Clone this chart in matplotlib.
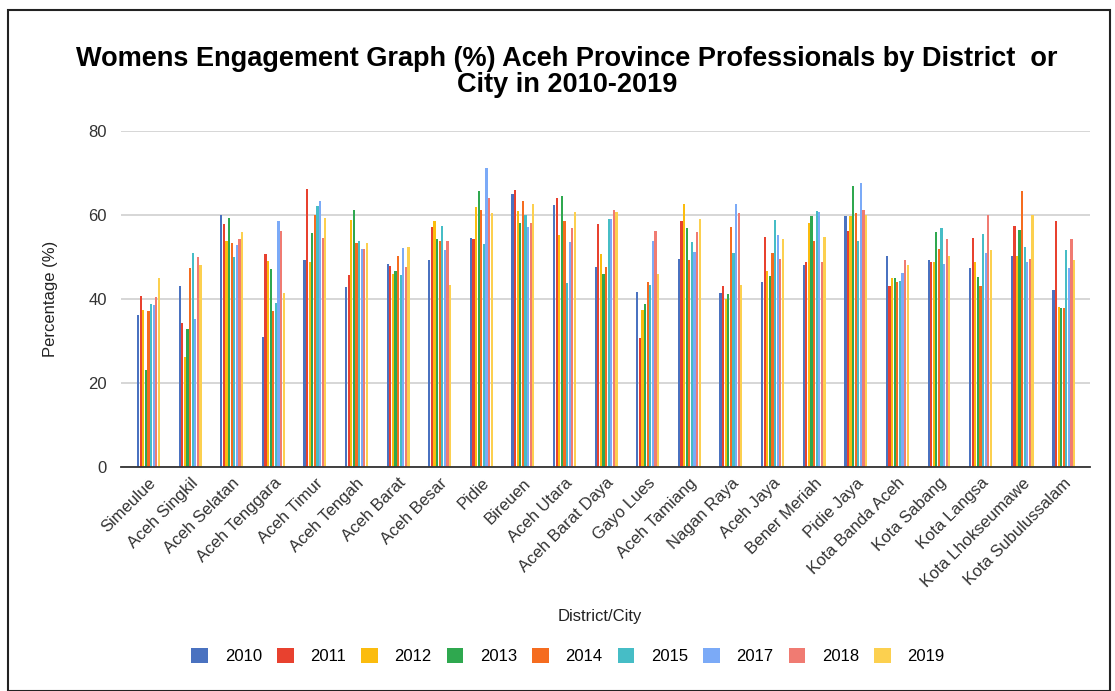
import numpy as np
import matplotlib
matplotlib.use("Agg")
import matplotlib.pyplot as plt
from matplotlib.patches import Rectangle

plt.rcParams['font.family'] = ['Liberation Sans', 'DejaVu Sans']

districts = ["Simeulue", "Aceh Singkil", "Aceh Selatan", "Aceh Tenggara", "Aceh Timur",
             "Aceh Tengah", "Aceh Barat", "Aceh Besar", "Pidie", "Bireuen", "Aceh Utara",
             "Aceh Barat Daya", "Gayo Lues", "Aceh Tamiang", "Nagan Raya", "Aceh Jaya",
             "Bener Meriah", "Pidie Jaya", "Kota Banda Aceh", "Kota Sabang", "Kota Langsa",
             "Kota Lhokseumawe", "Kota Subulussalam"]

years = ["2010", "2011", "2012", "2013", "2014", "2015", "2017", "2018", "2019"]

v2010 = [36.2, 43.1, 60.1, 31.0, 49.3, 42.8, 48.3, 49.3, 54.5, 65.0, 62.4, 47.7, 41.7,
         49.6, 41.4, 44.0, 48.0, 59.8, 50.2, 49.3, 47.3, 50.2, 42.1]
v2011 = [40.8, 34.2, 57.8, 50.6, 66.3, 45.7, 47.9, 57.1, 54.2, 66.0, 64.0, 57.8, 30.6,
         58.5, 43.1, 54.8, 48.7, 56.2, 43.1, 48.7, 54.5, 57.5, 58.5]
v2012 = [37.5, 26.1, 53.9, 49.0, 48.7, 58.8, 46.0, 58.5, 62.0, 61.0, 55.2, 50.6, 37.5,
         62.7, 40.1, 46.7, 58.2, 59.8, 45.1, 48.7, 48.7, 50.2, 38.2]
v2013 = [23.1, 32.9, 59.4, 47.1, 55.6, 61.3, 46.7, 54.2, 65.6, 58.1, 64.6, 46.0, 38.8,
         56.8, 41.1, 45.4, 59.8, 67.0, 45.1, 55.9, 45.3, 56.5, 37.9]
v2014 = [37.1, 47.4, 53.3, 37.2, 60.1, 53.3, 50.2, 53.9, 61.3, 63.3, 58.5, 47.7, 44.0,
         49.3, 57.1, 51.0, 53.9, 60.4, 44.0, 51.9, 43.1, 65.6, 37.9]
v2015 = [38.9, 51.0, 49.9, 39.1, 62.1, 53.8, 45.6, 57.5, 53.2, 60.0, 43.7, 59.0, 43.4,
         53.5, 51.0, 58.8, 61.0, 53.9, 44.4, 56.8, 55.5, 52.5, 51.6]
v2017 = [38.5, 35.2, 52.9, 58.5, 63.3, 51.9, 52.2, 51.6, 71.3, 57.1, 53.5, 59.0, 53.9,
         51.2, 62.7, 55.2, 60.7, 67.6, 46.3, 48.3, 50.9, 48.7, 47.3]
v2018 = [40.5, 49.9, 54.2, 56.2, 54.5, 51.9, 47.6, 53.9, 64.0, 58.1, 56.8, 61.3, 56.2,
         55.9, 60.4, 49.6, 48.7, 61.3, 49.3, 54.2, 60.1, 49.6, 54.2]
v2019 = [45.1, 48.0, 55.9, 41.4, 59.4, 53.3, 52.5, 43.4, 60.4, 62.7, 60.7, 60.7, 46.0,
         59.0, 43.4, 54.2, 54.8, 60.1, 48.0, 50.2, 51.6, 60.1, 49.3]

series = [v2010, v2011, v2012, v2013, v2014, v2015, v2017, v2018, v2019]
colors = ["#4a72c0", "#e8412f", "#fbbc0e", "#2fa84f", "#f56c1f",
          "#46bdc6", "#7baaf7", "#f07b72", "#fcd04f"]

W, H = 1115, 691
fig = plt.figure(figsize=(W / 100, H / 100), dpi=100)
ax = fig.add_axes([121 / W, 1 - 467 / H, (1090 - 121) / W, (467 - 131) / H])

x = np.arange(len(districts))
n = len(series)
group_w = 0.56
bw = group_w / n
for i, (vals, c) in enumerate(zip(series, colors)):
    ax.bar(x - group_w / 2 + bw * (i + 0.5), vals, width=bw * 0.85, color=c,
           label=years[i], zorder=3)

ax.set_xlim(-0.66, len(districts) - 1 + 0.63)
ax.set_ylim(0, 80)
ax.set_yticks([0, 20, 40, 60, 80])
ax.yaxis.grid(True, color="#d0d0d0", linewidth=1.2, zorder=0)
for s in ["top", "right", "left"]:
    ax.spines[s].set_visible(False)
ax.spines["bottom"].set_color("#333333")
ax.spines["bottom"].set_linewidth(1.3)
ax.spines["bottom"].set_zorder(4)
ax.tick_params(axis="both", length=0, labelsize=12, colors="#333333", pad=10)
ax.set_xticks(x)
ax.set_xticklabels(districts, rotation=45, ha="right", rotation_mode="anchor")
ax.tick_params(axis="x", pad=6)

# axis titles placed by pixel position
fig.text(50 / W, 1 - 299 / H, "Percentage (%)", rotation=90, ha="center", va="center",
         fontsize=12, color="#222222")
fig.text(600 / W, 1 - 617 / H, "District/City", ha="center", va="center",
         fontsize=12, color="#222222")

fig.text(567 / W, 1 - 72 / H, "Womens Engagement Graph (%) Aceh Province Professionals by District  or\nCity in 2010-2019",
         ha="center", va="center", fontsize=19.5, fontweight="bold", linespacing=0.95)

fig.legend(loc="center", bbox_to_anchor=(568 / W, 1 - 656 / H), ncol=9, frameon=False,
           fontsize=12, handlelength=1.0, handleheight=1.0, columnspacing=0.9,
           handletextpad=1.0)

fig.patches.append(Rectangle((8 / W, 0), (1110 - 8) / W, 1 - 10 / H,
                             transform=fig.transFigure, fill=False,
                             edgecolor="#222222", linewidth=1.5))

fig.savefig("out.png", dpi=100)
